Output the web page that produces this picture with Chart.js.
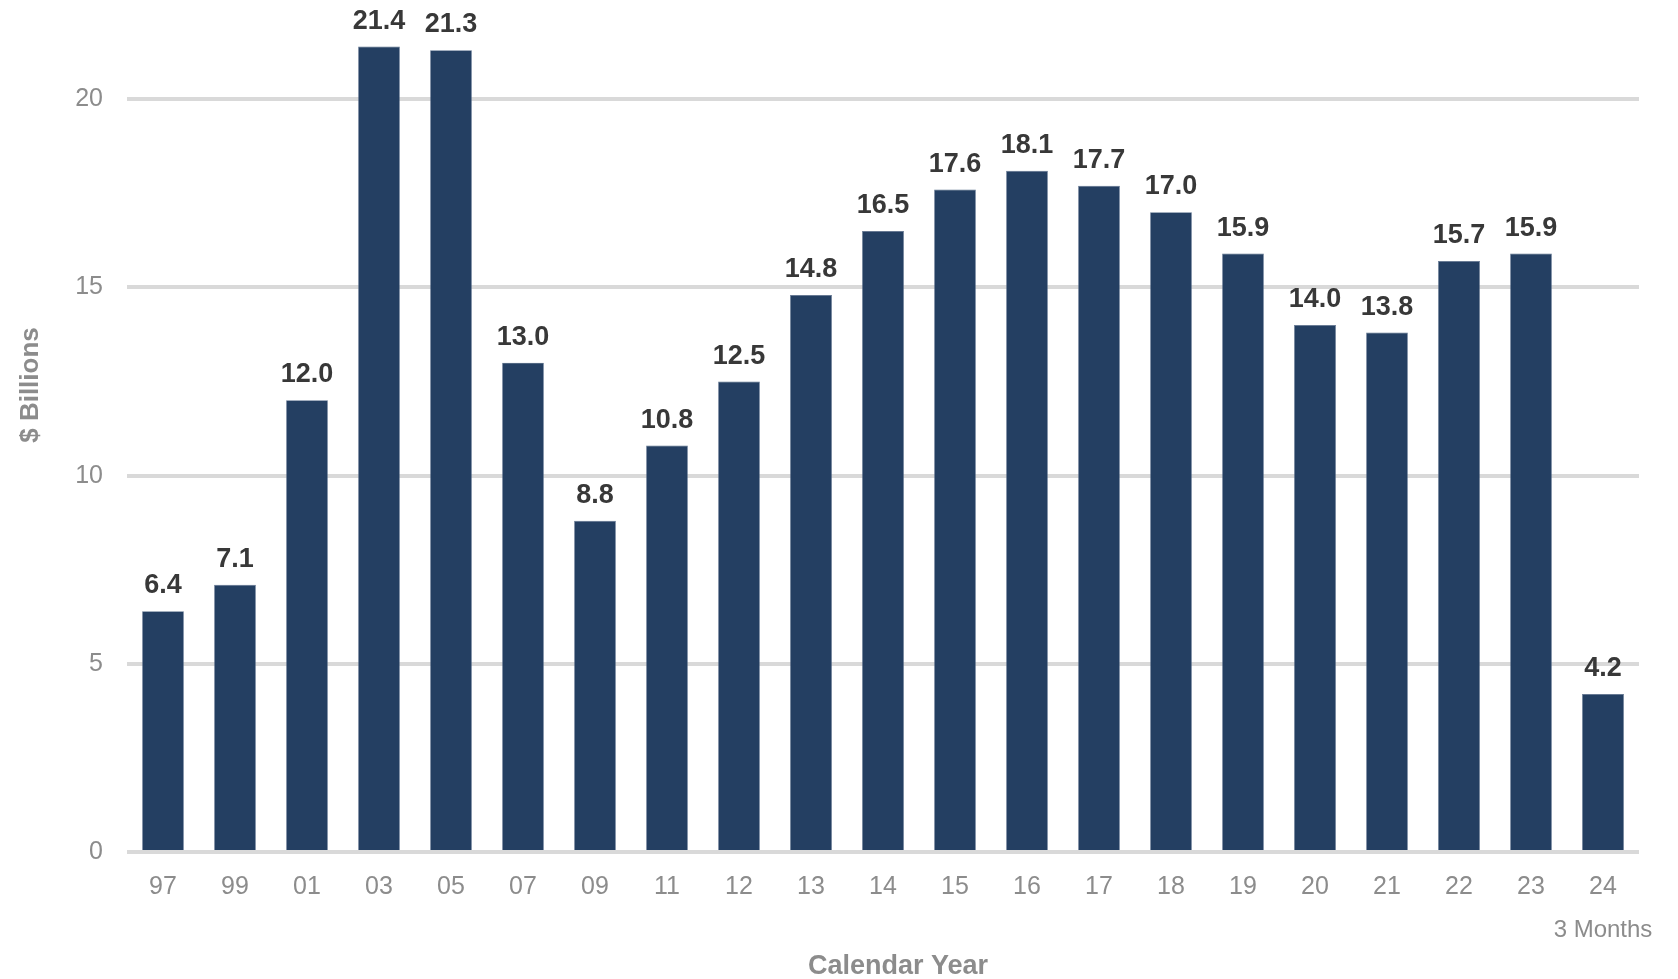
<!DOCTYPE html>
<html>
<head>
<meta charset="utf-8">
<script src="https://cdn.jsdelivr.net/npm/chart.js@4"></script>
<style>
  html, body { margin: 0; padding: 0; background: #fff; }
  #wrap { width: 1678px; height: 979px; position: relative; }
</style>
</head>
<body>
<div id="wrap"><canvas id="barChart"></canvas></div>
<script>
// data
const years = ['97', '99', '01', '03', '05', '07', '09', '11', '12', '13', '14',
               '15', '16', '17', '18', '19', '20', '21', '22', '23', '24'];
const billions = [6.4, 7.1, 12.0, 21.4, 21.3, 13.0, 8.8, 10.8, 12.5, 14.8, 16.5,
                  17.6, 18.1, 17.7, 17.0, 15.9, 14.0, 13.8, 15.7, 15.9, 4.2];
const yTicks = [0, 5, 10, 15, 20];

const FONT = '"Liberation Sans", Arial, sans-serif';
const GREY = '#8c8c8c';

// value labels above bars + the extra texts
const extras = {
  id: 'extras',
  afterDatasetsDraw(chart) {
    const ctx = chart.ctx;
    const meta = chart.getDatasetMeta(0);
    ctx.save();
    ctx.font = 'bold 27px ' + FONT;
    ctx.fillStyle = '#383838';
    ctx.textAlign = 'center';
    ctx.textBaseline = 'alphabetic';
    meta.data.forEach((bar, i) => {
      ctx.fillText(billions[i].toFixed(1), bar.x, bar.y - 18);
    });

    const x = chart.scales.x;
    ctx.font = '24px ' + FONT;
    ctx.fillStyle = GREY;
    ctx.textBaseline = 'middle';
    ctx.fillText('3 Months', x.getPixelForValue(years.length - 1), 930);

    ctx.font = 'bold 27px ' + FONT;
    ctx.fillText('Calendar Year', 898, 967);

    ctx.translate(31, 385);
    ctx.rotate(-Math.PI / 2);
    ctx.font = 'bold 26px ' + FONT;
    ctx.fillText('$ Billions', 0, 0);
    ctx.restore();
  }
};

new Chart(document.getElementById('barChart'), {
  type: 'bar',
  data: {
    labels: years,
    datasets: [{
      data: billions,
      backgroundColor: '#243f62',
      borderColor: '#5a6f8c',
      borderWidth: 0.6,
      barPercentage: 0.58,
      categoryPercentage: 1
    }]
  },
  options: {
    responsive: true,
    maintainAspectRatio: false,
    animation: false,
    layout: { padding: { top: 24, right: 39, bottom: 0, left: 0 } },
    plugins: { legend: { display: false }, tooltip: { enabled: false } },
    scales: {
      x: {
        grid: { display: false },
        border: { display: false },
        ticks: { color: GREY, font: { family: FONT, size: 25 }, padding: 12 },
        afterFit(scale) { scale.height = 127; }
      },
      y: {
        min: 0,
        max: 22,
        grid: { color: '#d9d9d9', lineWidth: 4, drawTicks: false },
        border: { display: false },
        afterBuildTicks(scale) { scale.ticks = yTicks.map(v => ({ value: v })); },
        ticks: { color: GREY, font: { family: FONT, size: 25 }, padding: 24 },
        afterFit(scale) {
          scale.width = 127;
          scale.paddingTop = 0;
          scale.paddingBottom = 0;
        }
      }
    }
  },
  plugins: [extras]
});
</script>
</body>
</html>
